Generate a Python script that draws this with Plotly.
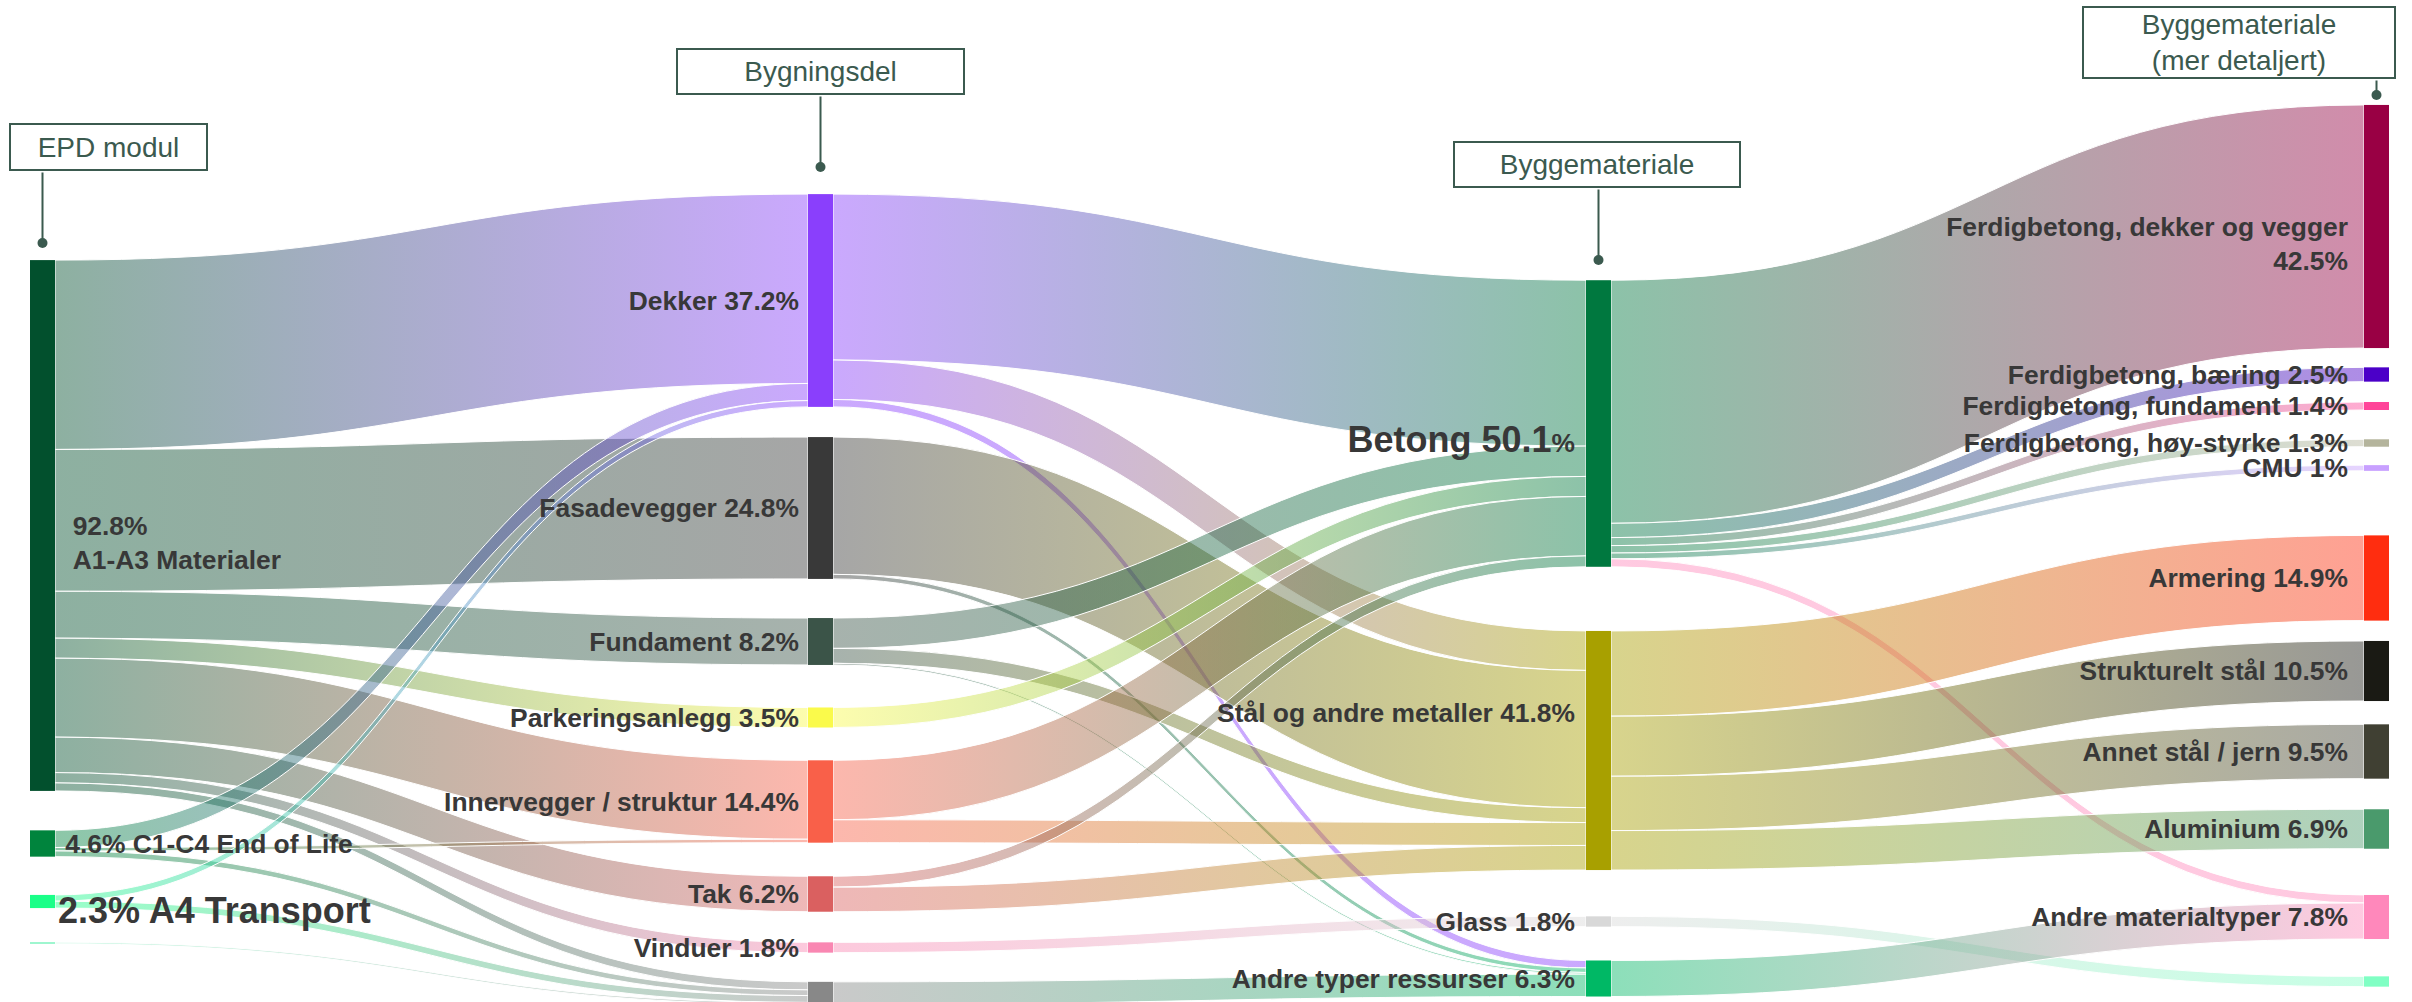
import json
import plotly.graph_objects as go

# ---------------- data ----------------
node_labels = [
    "<br>\u00a0\u00a092.8%<br>\u00a0\u00a0A1-A3 Materialer",
    "\u00a04.6% C1-C4 End of Life",
    "<span style='font-size:36px'>2.3% A4 Transport</span>",
    "",
    "Dekker 37.2%",
    "Fasadevegger 24.8%",
    "Fundament 8.2%",
    "Parkeringsanlegg 3.5%",
    "Innervegger / struktur 14.4%",
    "Tak 6.2%",
    "Vinduer 1.8%",
    "",
    "<span style='font-size:36px'>Betong 50.1</span>%",
    "Stål og andre metaller 41.8%",
    "Glass 1.8%",
    "Andre typer ressurser 6.3%",
    "<br>Ferdigbetong, dekker og vegger<br>42.5%",
    "Ferdigbetong, bæring 2.5%",
    "Ferdigbetong, fundament 1.4%",
    "Ferdigbetong, høy-styrke 1.3%",
    "CMU 1%",
    "Armering 14.9%",
    "Strukturelt stål 10.5%",
    "Annet stål / jern 9.5%",
    "Aluminium 6.9%",
    "Andre materialtyper 7.8%",
    "",
]

link_source = [0, 0, 0, 0, 0, 0, 0, 0,
               1, 1, 1,
               2, 2,
               3,
               4, 4, 4,
               5, 5,
               6, 6, 6,
               7,
               8, 8,
               9, 9,
               10,
               11,
               12, 12, 12, 12, 12, 12,
               13, 13, 13, 13,
               14,
               15]
link_target = [4, 5, 6, 7, 8, 9, 10, 11,
               4, 8, 11,
               4, 11,
               11,
               12, 13, 15,
               13, 15,
               12, 13, 15,
               12,
               12, 13,
               12, 13,
               14,
               15,
               16, 17, 18, 19, 20, 25,
               21, 22, 23, 24,
               26,
               25]
link_value = [33.1, 24.8, 8.2, 3.5, 13.8, 6.2, 1.8, 1.4,
              3.0, 0.6, 1.0,
              1.1, 1.2,
              0.3,
              29.0, 6.9, 1.3,
              24.0, 0.8,
              5.3, 2.6, 0.3,
              3.5,
              10.4, 4.0,
              1.9, 4.3,
              1.8,
              3.9,
              42.5, 2.5, 1.4, 1.3, 1.0, 1.4,
              14.9, 10.5, 9.5, 6.9,
              1.8,
              6.3]

# ---------------- styling / layout ----------------
W, H = 2412, 1002
node_colors = [
    "#02502D", "#00843D", "#1AFF88", "#8FF5C8",
    "#8A3FFC", "#393939", "#3B5448", "#FAFA4B", "#F96049", "#DA6060", "#F987B2", "#888888",
    "#00783F", "#A8A000", "#D8D8D8", "#00B865",
    "#990044", "#4B00C8", "#FF4499", "#B4B49C", "#C8A0FF",
    "#FF2D0F", "#1A1A14", "#404033", "#4A9A6C", "#FF88BB", "#80FFC4",
]
node_column = [0, 0, 0, 0,
               1, 1, 1, 1, 1, 1, 1, 1,
               2, 2, 2, 2,
               3, 3, 3, 3, 3, 3, 3, 3, 3, 3, 3]
column_x_px = [42.5, 820.5, 1598.5, 2376.5]
node_center_y_px = [525.5, 843.5, 901.5, 943.0,
                    300.5, 508.0, 641.5, 717.5, 801.5, 894.0, 947.5, 993.0,
                    423.5, 750.5, 921.5, 978.5,
                    226.5, 374.5, 406.0, 443.0, 468.0, 578.0, 671.0, 751.5, 829.0, 917.0, 981.5]
# label placement: columns 1-3 carry their labels on the left of the node (x offset, px)
label_left_offset = {1: -9, 2: -11, 3: -16}
# extra vertical nudges of a few labels (px)
label_dy = {2: 12, 12: 19.5, 13: -37.5}
# links drawn in one flat colour instead of a source->target gradient
solid_links = {"4_15": "#8A3FFC", "12_25": "#FF88BB"}

node_x = [column_x_px[c] / W for c in node_column]
node_y = [v / H for v in node_center_y_px]
adjust = {}
for i, c in enumerate(node_column):
    lx = label_left_offset.get(c)
    dy = label_dy.get(i, 0)
    adjust[str(i)] = [lx, dy]

LINK_ALPHA = 0.45


def rgba(hexc, a):
    h = hexc.lstrip("#")
    return "rgba(%d,%d,%d,%.2f)" % (int(h[0:2], 16), int(h[2:4], 16), int(h[4:6], 16), a)


link_colors = [rgba(solid_links.get("%d_%d" % (s, t), node_colors[s]), LINK_ALPHA)
               for s, t in zip(link_source, link_target)]

fig = go.Figure(go.Sankey(
    arrangement="fixed",
    domain=dict(x=[0, 1], y=[0, 1]),
    node=dict(
        label=["<b>%s</b>" % l if l else "" for l in node_labels],
        color=node_colors,
        x=node_x,
        y=node_y,
        pad=43,
        thickness=25,
        line=dict(width=0),
        hoverinfo="none",
    ),
    link=dict(
        source=link_source,
        target=link_target,
        value=link_value,
        color=link_colors,
        line=dict(color="white", width=1),
        hoverinfo="none",
    ),
    textfont=dict(family="Liberation Sans, Arial, sans-serif", size=26.4, color="#383838"),
))

ANN_COLOR = "#3B5A4F"
ANN_FONT = dict(family="Liberation Sans, Arial, sans-serif", size=28, color=ANN_COLOR)
# header boxes: text, box centre (px), box outer size (px), arrow tip (px), box bottom (px)
headers = [
    ("EPD modul", (108.5, 147.0), (199, 48), (42.5, 243.0), 171.0),
    ("Bygningsdel", (820.0, 71.5), (289, 47), (820.5, 167.0), 95.0),
    ("Byggemateriale", (1597.0, 164.5), (288, 47), (1598.5, 260.0), 188.0),
    ("Byggemateriale<br>(mer detaljert)", (2239.0, 42.5), (314, 73), (2376.5, 95.0), 79.0),
]
annotations = []
for text, (cx, cy), (bw, bh), (tx, ty), bottom in headers:
    annotations.append(dict(
        text="", x=tx / W, y=1 - ty / H, xref="paper", yref="paper",
        showarrow=True, ax=0, ay=-(ty - bottom), axref="pixel", ayref="pixel",
        arrowhead=6, arrowsize=1.25, arrowwidth=2, arrowcolor=ANN_COLOR, standoff=0,
    ))
    annotations.append(dict(
        text=text, x=cx / W, y=1 - cy / H, xref="paper", yref="paper",
        xanchor="center", yanchor="middle", showarrow=False,
        width=bw - 4, height=bh - 4, borderwidth=2, borderpad=0,
        bordercolor=ANN_COLOR, bgcolor="white", font=ANN_FONT, align="center",
    ))

fig.update_layout(
    width=W, height=H,
    margin=dict(l=0, r=0, t=0, b=0, pad=0),
    paper_bgcolor="white", plot_bgcolor="white",
    font=dict(family="Liberation Sans, Arial, sans-serif", color="#383838"),
    annotations=annotations,
    showlegend=False,
)

# page margin removal, gradient links (source colour -> target colour) and
# label placement tweaks, applied after plotting
post_script = """
(function(){
document.body.style.margin = '0';
var gd = document.getElementById('{plot_id}');
var COL = %s, SRC = %s, TGT = %s, OP = %s, ADJ = %s, SOLID = %s;
var NS = 'http://www.w3.org/2000/svg';
function apply(){
  var paths = gd.querySelectorAll('path.sankey-link');
  if(paths.length){
    var svg = paths[0].ownerSVGElement;
    var defs = svg.querySelector('defs');
    if(!defs){ defs = document.createElementNS(NS,'defs'); svg.insertBefore(defs, svg.firstChild); }
    for(var k=0;k<paths.length;k++){
      var p = paths[k], d = p.__data__, s, t;
      if(d && d.link && d.link.source && d.link.source.pointNumber !== undefined){
        s = d.link.source.pointNumber; t = d.link.target.pointNumber;
      } else { s = SRC[k]; t = TGT[k]; }
      var key = s + '_' + t;
      var c0 = SOLID[key] || COL[s], c1 = SOLID[key] || COL[t];
      var id = 'lgsk_' + key;
      if(!document.getElementById(id)){
        var g = document.createElementNS(NS,'linearGradient');
        g.setAttribute('id', id);
        g.setAttribute('x1','0'); g.setAttribute('y1','0');
        g.setAttribute('x2','1'); g.setAttribute('y2','0');
        [[0,c0],[1,c1]].forEach(function(st){
          var e = document.createElementNS(NS,'stop');
          e.setAttribute('offset', st[0]);
          e.setAttribute('stop-color', st[1]);
          e.setAttribute('stop-opacity', OP);
          g.appendChild(e);
        });
        defs.appendChild(g);
      }
      p.style.fill = 'url(#' + id + ')';
      p.style.fillOpacity = 1;
    }
  }
  var nodes = gd.querySelectorAll('g.sankey-node');
  for(var j=0;j<nodes.length;j++){
    var nd = nodes[j].__data__;
    if(!nd || !nd.node) continue;
    var tx = nodes[j].querySelector('text.node-label');
    if(!tx) continue;
    tx.style.textShadow = 'none';
    var a = ADJ[String(nd.node.pointNumber)];
    if(!a) continue;
    var tr = tx.getAttribute('transform') || '';
    var m = tr.match(/translate\\(\\s*([-0-9.eE]+)[ ,]+([-0-9.eE]+)\\s*\\)/);
    if(!m) continue;
    if(!tx.hasAttribute('data-ox')){
      tx.setAttribute('data-ox', m[1]); tx.setAttribute('data-oy', m[2]);
    }
    var nx = (a[0] === null) ? parseFloat(tx.getAttribute('data-ox')) : a[0];
    var ny = parseFloat(tx.getAttribute('data-oy')) + a[1];
    if(a[0] !== null) tx.setAttribute('text-anchor', 'end');
    tx.setAttribute('transform', tr.replace(m[0], 'translate(' + nx + ',' + ny + ')'));
  }
}
apply(); setTimeout(apply, 200); setTimeout(apply, 800); setTimeout(apply, 2000);
})();
""" % (json.dumps(node_colors), json.dumps(link_source), json.dumps(link_target), LINK_ALPHA,
       json.dumps(adjust), json.dumps(solid_links))

fig.write_html("out.html", post_script=post_script, config={"displayModeBar": False})
